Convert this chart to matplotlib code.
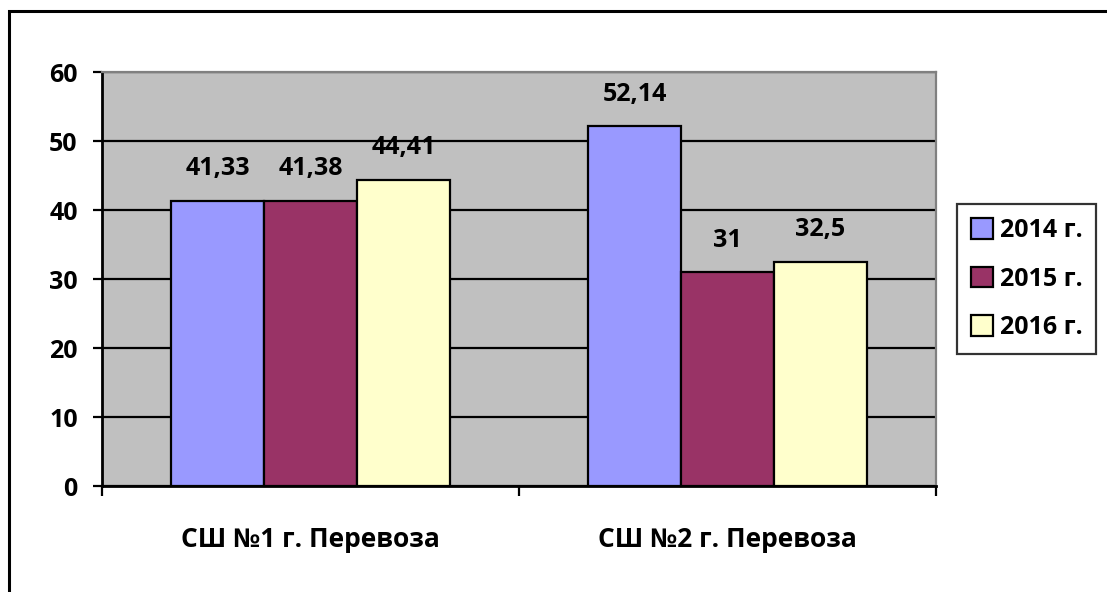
import numpy as np
import matplotlib.pyplot as plt
from matplotlib.patches import Rectangle

plt.rcParams['font.family'] = ['Open Sans', 'DejaVu Sans']
plt.rcParams['font.weight'] = 'bold'

categories = ['СШ №1 г. Перевоза', 'СШ №2 г. Перевоза']
years = ['2014 г.', '2015 г.', '2016 г.']
values_2014 = [41.33, 52.14]
values_2015 = [41.38, 31]
values_2016 = [44.41, 32.5]
labels_2014 = ['41,33', '52,14']
labels_2015 = ['41,38', '31']
labels_2016 = ['44,41', '32,5']
colors = ['#9999FF', '#993366', '#FFFFCC']

fig = plt.figure(figsize=(11.07, 5.92), dpi=100)
ax = fig.add_axes([0.0921, 0.179, 0.7534, 0.699])

# outer chart border
fig.patches.append(Rectangle((9 / 1107, -0.01), 1.1, 1 - 11 / 592 + 0.01,
                             transform=fig.transFigure, fill=False,
                             edgecolor='black', linewidth=2.2))

ax.set_facecolor('#C0C0C0')
x = np.arange(len(categories)) + 0.5
w = 0.223
series = [values_2014, values_2015, values_2016]
labels = [labels_2014, labels_2015, labels_2016]
for i, (vals, labs) in enumerate(zip(series, labels)):
    pos = x + (i - 1) * w
    ax.bar(pos, vals, width=w, color=colors[i], edgecolor='black',
           linewidth=1.6, label=years[i], zorder=3)
    for p, v, t in zip(pos, vals, labs):
        ax.annotate(t, (p, v), xytext=(0, 18.5), textcoords='offset points',
                    ha='center', va='baseline', fontsize=18, fontweight='bold')

ax.set_xlim(0, 2)
ax.set_ylim(0, 60)
ax.set_yticks(range(0, 61, 10))
ax.yaxis.grid(True, color='black', linewidth=1.6, zorder=0)
ax.set_axisbelow(True)
ax.set_xticks([0, 1, 2])
ax.set_xticklabels([])
ax.set_xticks(x, minor=True)
ax.set_xticklabels(categories, minor=True, fontsize=19, fontweight='bold')
ax.tick_params(axis='x', which='minor', length=0, pad=29)
ax.tick_params(axis='x', which='major', length=7, width=1.6, direction='out')
ax.tick_params(axis='y', length=6.5, width=1.6, labelsize=18, pad=11)
for lab in ax.get_yticklabels():
    lab.set_fontweight('bold')

ax.spines['left'].set_linewidth(2)
ax.spines['bottom'].set_linewidth(2)
ax.spines['top'].set_color('#808080')
ax.spines['right'].set_color('#808080')
ax.spines['top'].set_linewidth(1.6)
ax.spines['right'].set_linewidth(1.6)

leg = ax.legend(loc='center left', bbox_to_anchor=(957 / 1107, (592 - 279) / 592),
                bbox_transform=fig.transFigure, fontsize=18, frameon=True,
                fancybox=False, edgecolor='black', handlelength=0.9,
                handleheight=0.9, handletextpad=0.25, labelspacing=0.95,
                borderpad=0.55, borderaxespad=0)
leg.get_frame().set_linewidth(1.6)
for t in leg.get_texts():
    t.set_fontweight('bold')

plt.savefig('out.png', dpi=100)
